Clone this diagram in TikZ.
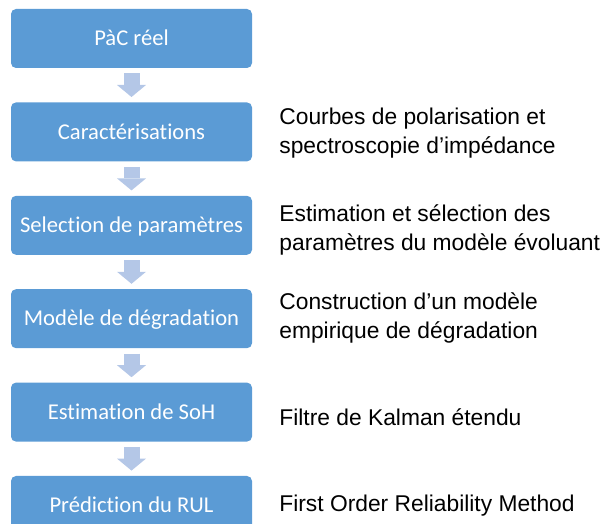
\documentclass[tikz,border=0pt]{standalone}
\usepackage{fontspec}
\setmainfont{Liberation Sans}
\newfontfamily\boxfont[Ligatures={NoCommon}]{Carlito}
\usetikzlibrary{arrows.meta,positioning}
\definecolor{boxblue}{RGB}{91,155,213}
\definecolor{arrowblue}{RGB}{180,199,231}
\tikzset{
  stage/.style={fill=boxblue, rounded corners=2.5pt, minimum width=120.5pt,
    minimum height=29.5pt, inner sep=0pt, text=white,
    font=\boxfont\fontsize{11.3}{13}\selectfont, text height=7.3pt, text depth=0pt},
  flow/.style={draw=arrowblue, line width=8pt,
    -{Triangle[width=14.5pt,length=6pt,line width=0pt 0]},
    shorten <=2.5pt, shorten >=2.5pt},
  desc/.style={anchor=west, inner sep=0pt, align=left,
    font=\fontsize{11.4}{14.5}\selectfont}
}
\begin{document}
\begin{tikzpicture}[x=0.5pt,y=-0.5pt,node distance=16.8pt]
    \useasboundingbox (0,0) rectangle (601,524);
    \clip (0,0) rectangle (601,524);
    % etapes
    \node[stage] (pac) at (131.5,38.5) {PàC réel};
    \node[stage, below=of pac] (carac) {Caractérisations};
    \node[stage, below=of carac] (param) {Selection de paramètres};
    \node[stage, below=of param] (modele) {Modèle de dégradation};
    \node[stage, below=of modele] (soh) {Estimation de SoH};
    \node[stage, below=of soh] (rul) {Prédiction du RUL};
    \foreach \a/\b in {pac/carac,carac/param,param/modele,modele/soh,soh/rul} {
      \draw[flow] (\a) -- (\b);
    }
    % descriptions
    \node[desc] (dcarac) at (279,133.1) {Courbes de polarisation et\\spectroscopie d’impédance};
    \node[desc] (dparam) at (279,229.6) {Estimation et sélection des\\paramètres du modèle évoluant};
    \node[desc] (dmodele) at (279,318.1) {Construction d’un modèle\\empirique de dégradation};
    \node[desc, anchor=base west] (dsoh) at (279,425) {Filtre de Kalman étendu};
    \node[desc, anchor=base west] (drul) at (279,511) {First Order Reliability Method};
\end{tikzpicture}
\end{document}
